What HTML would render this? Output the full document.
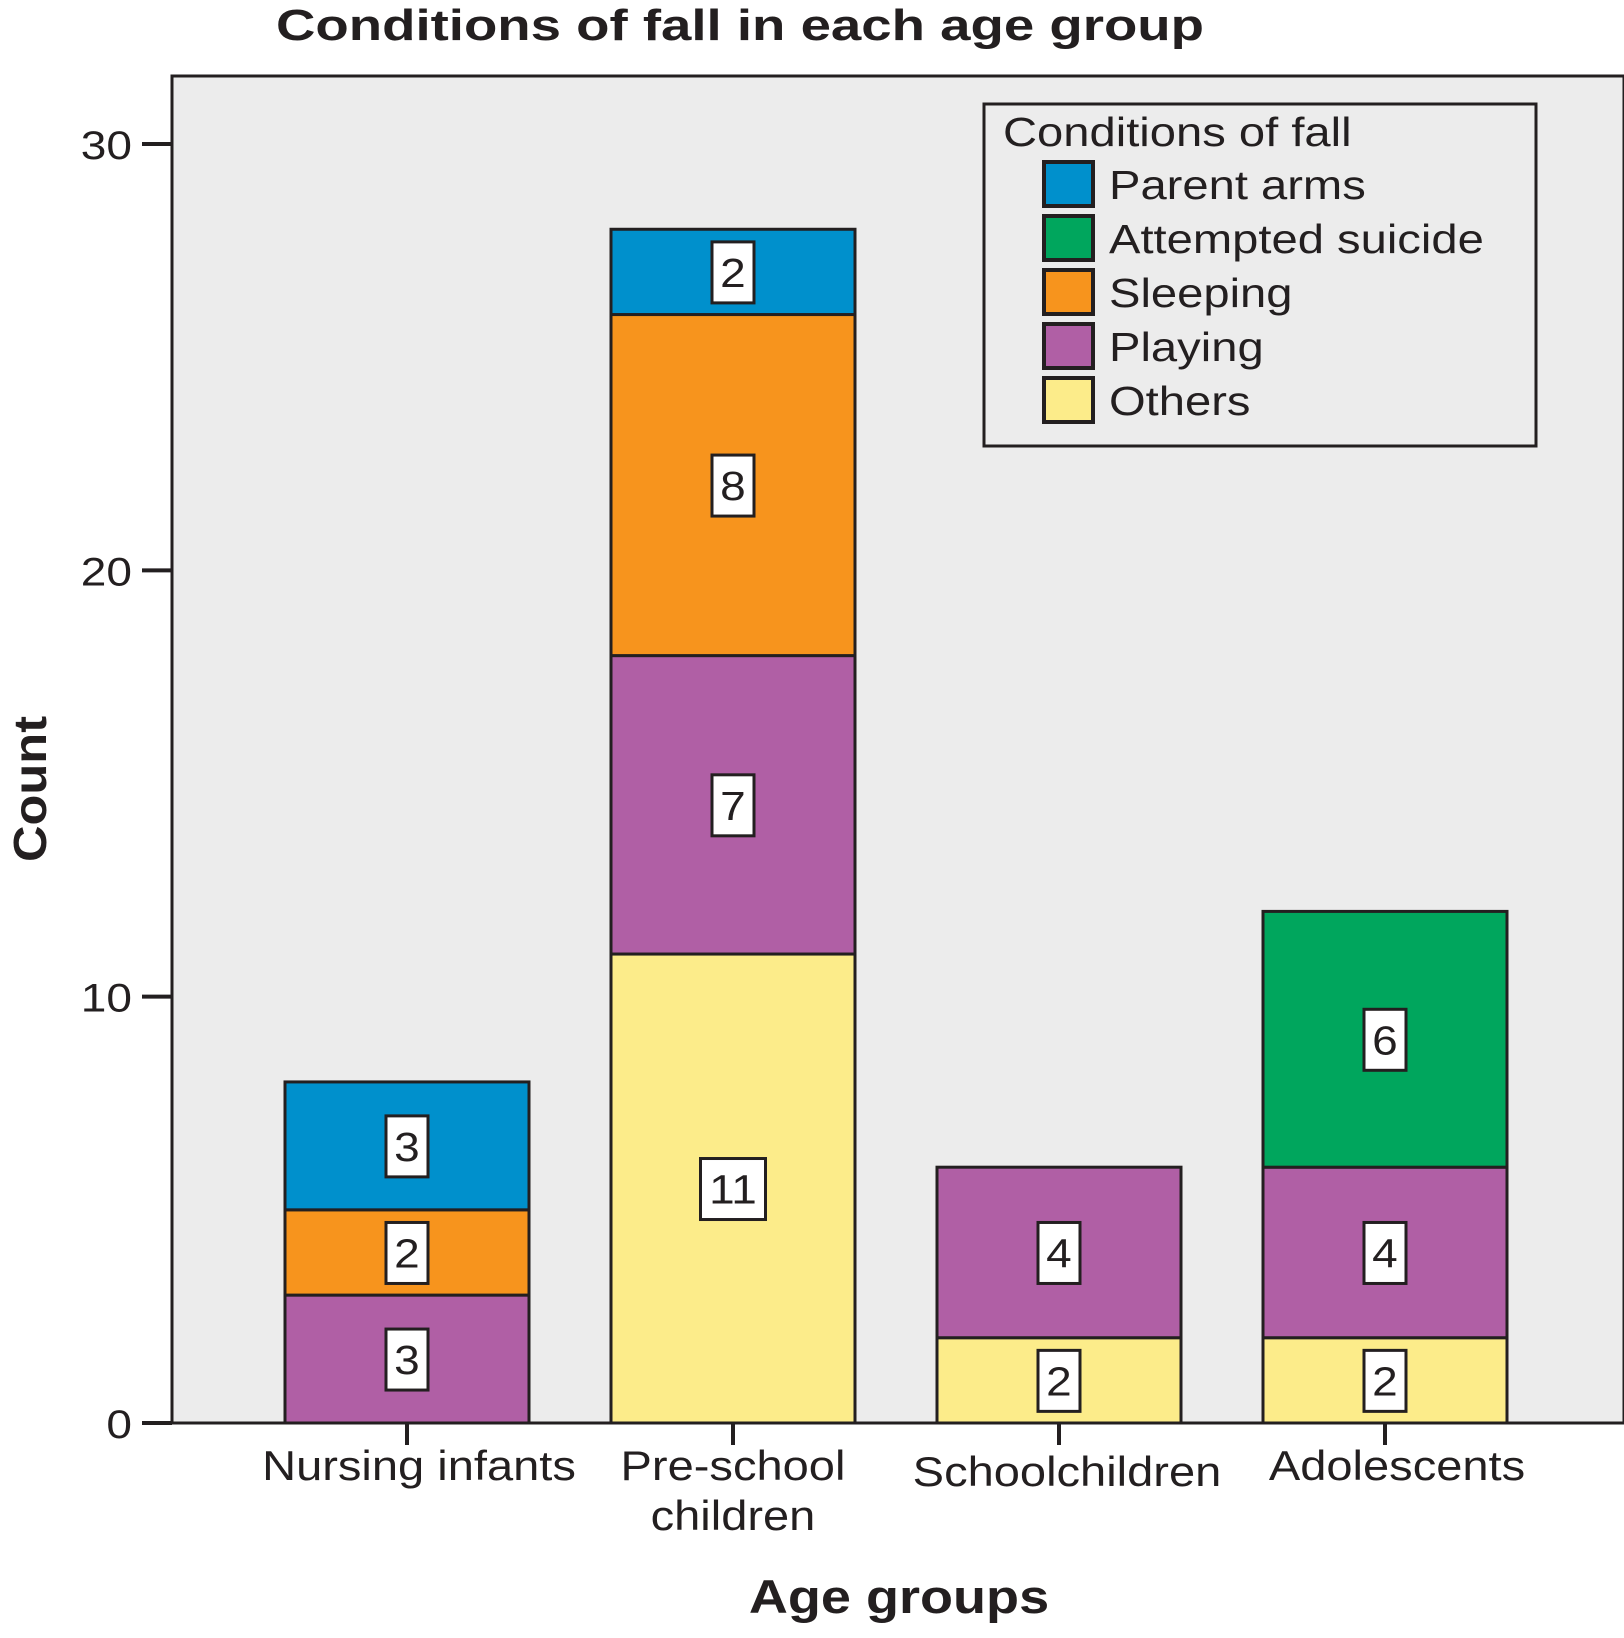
<!DOCTYPE html>
<html><head><meta charset="utf-8"><style>
html,body{margin:0;padding:0;background:#fff}
svg{display:block}
text{font-family:"Liberation Sans",Arial,sans-serif;fill:#231f20}
</style></head><body>
<svg id="chart" width="1624" height="1638" viewBox="0 0 1624 1638" xmlns="http://www.w3.org/2000/svg">
<text id="title" x="740" y="40" text-anchor="middle" font-size="44" font-weight="bold" textLength="928" lengthAdjust="spacingAndGlyphs">Conditions of fall in each age group</text>
<rect x="172" y="76" width="1452" height="1347" fill="#ececec" stroke="#231f20" stroke-width="3"/>
<g id="bars"></g>
<g id="yaxis"></g>
<g id="xaxis"></g>
<text class="st" data-f="1.1" x="0" y="0" transform="translate(46,789) rotate(-90)" text-anchor="middle" font-size="46" font-weight="bold">Count</text>
<text class="st" data-f="1.15" x="899" y="1613" text-anchor="middle" font-size="47" font-weight="bold">Age groups</text>
<g id="legend">
<rect x="984" y="104" width="552" height="342" fill="#ececec" stroke="#231f20" stroke-width="3"/>
<text class="st" data-f="1.15" x="1003" y="146" font-size="41">Conditions of fall</text>
</g>
</svg>
<script>
const categories = [["Nursing infants"], ["Pre-school", "children"], ["Schoolchildren"], ["Adolescents"]];
const seriesNames = ["Others", "Playing", "Sleeping", "Attempted suicide", "Parent arms"];
const others = [0, 11, 2, 2];
const playing = [3, 7, 4, 4];
const sleeping = [2, 8, 0, 0];
const suicide = [0, 0, 0, 6];
const parentArms = [3, 2, 0, 0];
const yTicks = [0, 10, 20, 30];
const legendOrder = ["Parent arms", "Attempted suicide", "Sleeping", "Playing", "Others"];

const series = [others, playing, sleeping, suicide, parentArms];
const colors = {"Others":"#fcec8a","Playing":"#b05fa5","Sleeping":"#f7941d","Attempted suicide":"#00a65d","Parent arms":"#0090cc"};
const NS = "http://www.w3.org/2000/svg";
const y0 = 1423, yTop = 144;
function yScale(v){ return y0 - v * (y0 - yTop) / 30; }
function xCenter(i){ return 407 + i * 326; }
const barW = 244;
const labelOffset = [12, 0, 8, 12];
function mk(tag, attrs, parent){ const e = document.createElementNS(NS, tag); for (const k in attrs) e.setAttribute(k, attrs[k]); parent.appendChild(e); return e; }

const bars = document.getElementById("bars");
categories.forEach((c, i) => {
  let cum = 0;
  series.forEach((s, si) => {
    const v = s[i];
    if (!v) return;
    const yA = yScale(cum + v), yB = yScale(cum);
    const r = mk("rect", {x: xCenter(i) - barW/2, y: yA, width: barW, height: yB - yA, fill: colors[seriesNames[si]], stroke: "#231f20", "stroke-width": 3}, bars);
    
    
    const cy = (yA + yB) / 2;
    const lbl = String(v);
    const bw = lbl.length > 1 ? 65 : 42;
    const b = mk("rect", {x: xCenter(i) - bw/2, y: cy - 30, width: bw, height: 61, fill: "#fff", stroke: "#231f20", "stroke-width": 3}, bars);
    
    
    const t = mk("text", {x: xCenter(i), y: cy + 15, "text-anchor": "middle", "font-size": 41, class: "st", "data-f": "1.12"}, bars);
    t.textContent = lbl;
    
    
    cum += v;
  });
});

const ya = document.getElementById("yaxis");
yTicks.forEach(v => {
  const l = mk("line", {x1: 142, x2: 172, y1: yScale(v), y2: yScale(v), stroke: "#231f20", "stroke-width": 4}, ya);
  
  
  const t = mk("text", {x: 132, y: yScale(v) + 15, "text-anchor": "end", "font-size": 40, class: "st", "data-f": "1.15"}, ya);
  t.textContent = v;
  
  
});

const xa = document.getElementById("xaxis");
categories.forEach((c, i) => {
  const l = mk("line", {x1: xCenter(i), x2: xCenter(i), y1: y0, y2: y0 + 22, stroke: "#231f20", "stroke-width": 4}, xa);
  
  
  c.forEach((line, li) => {
    const t = mk("text", {x: xCenter(i) + labelOffset[i], y: (i === 2 ? 1486 : 1480) + li * 50, "text-anchor": "middle", "font-size": 42, class: "st", "data-f": "1.12"}, xa);
    t.textContent = line;
    
    
  });
});

const lg = document.getElementById("legend");
legendOrder.forEach((n, k) => {
  const yy = 162 + k * 54;
  const r = mk("rect", {x: 1044, y: yy, width: 49, height: 44, fill: colors[n], stroke: "#231f20", "stroke-width": 4}, lg);
  
  
  const t = mk("text", {x: 1109, y: yy + 37, "font-size": 41, class: "st", "data-f": "1.15"}, lg);
  t.textContent = n;
  
  
});

document.querySelectorAll("text.st").forEach(t => {
  const f = parseFloat(t.getAttribute("data-f"));
  const w = t.getComputedTextLength();
  t.setAttribute("textLength", (w * f).toFixed(1));
  t.setAttribute("lengthAdjust", "spacingAndGlyphs");
});
</script>
</body></html>
